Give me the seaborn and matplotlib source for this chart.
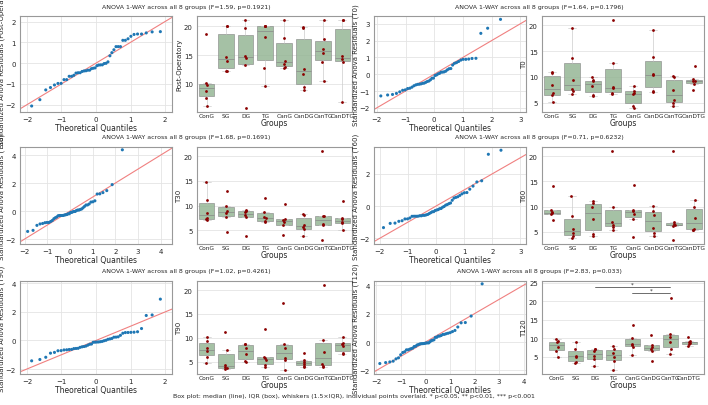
import numpy as np
import pandas as pd
import matplotlib
matplotlib.use("Agg")
import matplotlib.pyplot as plt
import seaborn as sns
from statistics import NormalDist

groups = ["ConG", "SG", "DG", "TG", "CanG", "CanDG", "CanTG", "CanDTG"]

post_op = [[6.2, 7.6, 8.8, 9.8, 10.1, 18.6], [12.3, 12.3, 14.0, 14.6, 20.0, 20.0],
           [5.9, 13.2, 14.5, 14.8, 19.6, 21.0], [9.6, 12.8, 18.2, 20.0, 20.0, 20.0],
           [12.8, 13.0, 13.5, 14.0, 18.0, 21.0], [8.9, 9.4, 11.8, 12.6, 19.6, 19.8],
           [10.5, 13.8, 15.4, 16.0, 17.8, 21.0], [6.9, 13.8, 14.3, 14.8, 21.0, 21.0]]
t0 = [[5.1, 6.4, 6.8, 8.5, 10.8, 11.0], [6.7, 7.3, 7.6, 9.3, 13.7, 19.5],
      [6.3, 6.5, 8.3, 9.1, 9.3, 10.0], [6.6, 6.8, 7.8, 8.0, 12.7, 21.0],
      [4.0, 4.3, 6.6, 6.8, 7.3, 8.3], [7.1, 7.2, 10.3, 10.6, 13.8, 19.2],
      [4.3, 5.0, 5.5, 7.5, 9.9, 10.1], [7.5, 8.6, 9.1, 9.2, 9.5, 12.2]]
t30 = [[7.1, 7.3, 7.5, 8.5, 11.2, 14.7], [4.7, 7.6, 8.5, 9.0, 10.0, 12.9],
       [3.8, 7.6, 8.0, 8.6, 8.9, 9.1], [6.6, 6.8, 7.4, 7.6, 8.8, 11.6],
       [4.0, 6.0, 6.6, 7.0, 7.3, 10.3], [3.8, 5.2, 5.6, 6.0, 8.0, 8.2],
       [3.1, 6.1, 6.2, 7.8, 7.9, 21.0], [5.0, 6.4, 6.6, 7.2, 7.5, 11.0]]
t60 = [[7.4, 8.5, 8.7, 8.9, 9.4, 14.0], [3.7, 4.1, 4.7, 5.5, 8.2, 12.1],
       [4.2, 4.6, 7.5, 10.0, 10.8, 11.1], [5.4, 6.0, 6.4, 7.0, 10.0, 21.0],
       [4.0, 7.6, 8.6, 9.2, 9.4, 14.3], [4.2, 4.8, 5.8, 8.4, 9.2, 10.1],
       [3.4, 6.2, 6.3, 6.5, 6.9, 21.0], [5.3, 5.4, 5.6, 7.8, 10.0, 11.4]]
t90 = [[4.7, 6.0, 7.2, 7.8, 9.3, 10.2], [3.5, 3.6, 3.8, 4.2, 7.4, 11.2],
       [4.9, 5.2, 6.6, 7.8, 8.6, 8.8], [3.9, 4.2, 5.4, 5.8, 6.0, 11.9],
       [3.3, 5.4, 5.8, 7.8, 8.8, 17.3], [3.9, 4.1, 4.6, 4.9, 5.3, 6.9],
       [3.8, 4.1, 4.6, 7.1, 9.5, 21.0], [6.5, 6.9, 8.3, 8.7, 9.0, 10.1]]
t120 = [[5.1, 6.5, 7.6, 8.9, 9.2, 9.9], [3.3, 3.7, 5.0, 5.3, 7.0, 8.9],
        [2.5, 4.3, 5.3, 6.5, 7.0, 7.1], [1.5, 3.9, 5.1, 6.1, 7.1, 7.9],
        [5.6, 7.7, 8.2, 8.6, 10.1, 13.5], [4.0, 6.7, 7.2, 7.8, 8.3, 10.9],
        [5.8, 7.2, 9.1, 10.5, 11.2, 21.0], [7.9, 8.5, 8.8, 9.0, 9.2, 10.3]]

measures = ["Post-Operatory", "T0", "T30", "T60", "T90", "T120"]
datasets = [post_op, t0, t30, t60, t90, t120]
titles = ["ANOVA 1-WAY across all 8 groups (F=1.59, p=0.1921)",
          "ANOVA 1-WAY across all 8 groups (F=1.64, p=0.1796)",
          "ANOVA 1-WAY across all 8 groups (F=1.68, p=0.1691)",
          "ANOVA 1-WAY across all 8 groups (F=0.71, p=0.6232)",
          "ANOVA 1-WAY across all 8 groups (F=1.02, p=0.4261)",
          "ANOVA 1-WAY across all 8 groups (F=2.83, p=0.033)"]
qq_xlims = [(-2.2, 2.2), (-2.1, 3.2), (-2.2, 4.5), (-2.2, 3.2), (-2.2, 2.2), (-2.1, 4.1)]
sig_pairs_t120 = [("DG", "CanTG"), ("CanG", "CanTG")]

sns.set_style("whitegrid")
plt.rcParams.update({"axes.edgecolor": "#999999", "grid.color": "#e4e4e4",
                     "axes.linewidth": 0.8, "grid.linewidth": 0.6,
                     "font.size": 5, "xtick.labelsize": 5, "ytick.labelsize": 5})

W, H = 708, 406
fig = plt.figure(figsize=(W / 100, H / 100), dpi=100)

def ax_px(l, t, r, b):
    return fig.add_axes([l / W, 1 - b / H, (r - l) / W, (b - t) / H])

row_tb = [(17, 113), (148, 245), (282, 375)]
col_x = [(20, 172, 197, 352), (374, 526, 542, 704)]
nd = NormalDist()

for i, (name, data, title) in enumerate(zip(measures, datasets, titles)):
    r, c = divmod(i, 2)
    t, b = row_tb[r]
    ql, qr, bl, br = col_x[c]
    df = pd.DataFrame([(g, v) for g, vals in zip(groups, data) for v in vals],
                      columns=["Groups", name])
    resid = df[name] - df.groupby("Groups")[name].transform("mean")
    resid = np.sort((resid / resid.std()).values)
    n = len(resid)
    q = np.array([nd.inv_cdf((k + 0.5) / n) for k in range(n)])
    axq = ax_px(ql, t, qr, b)
    xl = qq_xlims[i]
    axq.plot(xl, xl, color="#f08080", lw=0.8, zorder=1)
    sns.scatterplot(x=q, y=resid, ax=axq, s=5, color="#1f77b4", edgecolor="none", zorder=2)
    axq.set_xlim(xl)
    axq.set_ylim(min(resid.min(), xl[0]) - 0.15, resid.max() + 0.2)
    axq.set_xlabel("Theoretical Quantiles", fontsize=5.5, labelpad=0.5)
    axq.set_ylabel(f"Standardized Anova Residuals ({name})", fontsize=5, labelpad=0.5)
    axq.tick_params(pad=1, length=2)

    axb = ax_px(bl, t, br, b)
    sns.boxplot(data=df, x="Groups", y=name, ax=axb, color="#8fbc8f", width=0.8,
                linecolor="#888888", linewidth=0.5, showfliers=False,
                boxprops=dict(alpha=0.85), whiskerprops=dict(color="#cccccc"),
                capprops=dict(color="#cccccc"))
    sns.stripplot(data=df, x="Groups", y=name, ax=axb, color="#8b0000", size=2, jitter=0.05)
    axb.tick_params(axis="x", labelsize=4.2, pad=1, length=0)
    axb.tick_params(axis="y", pad=1, length=2)
    axb.set_xlabel("Groups", fontsize=5.5, labelpad=0)
    axb.set_ylabel(name, fontsize=5, labelpad=1)
    if name == "T120":
        ymax = max(max(v) for v in data)
        for k, (g1, g2) in enumerate(sig_pairs_t120):
            y = ymax + 1.2 + (1 - k) * 1.7
            x1, x2 = groups.index(g1), groups.index(g2)
            axb.plot([x1, x2], [y, y], color="#555555", lw=0.6)
            axb.text((x1 + x2) / 2, y + 0.1, "*", ha="center", va="bottom", fontsize=4)
        axb.set_ylim(top=ymax + 4.5)
    fig.text(((ql + br) / 2) / W, 1 - (t - 10) / H, title, ha="center", va="center", fontsize=4.5)

fig.text(0.5, 1 - 397 / H,
         "Box plot: median (line), IQR (box), whiskers (1.5×IQR), individual points overlaid. * p<0.05, ** p<0.01, *** p<0.001",
         ha="center", va="center", fontsize=4.5)
fig.savefig("out.png", dpi=100)
